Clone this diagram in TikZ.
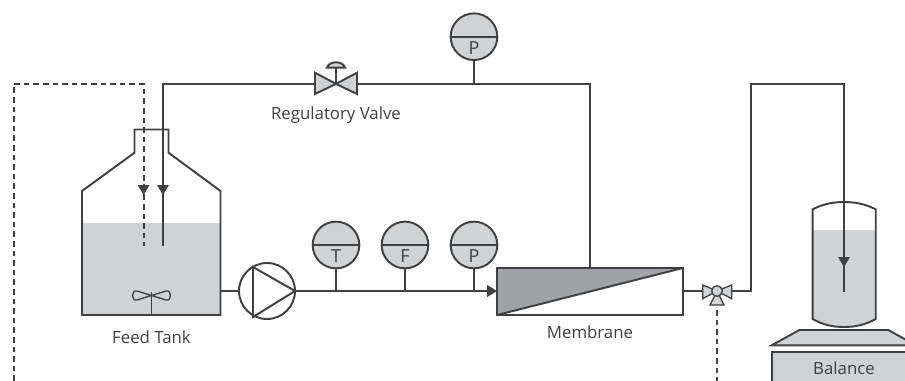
\documentclass[tikz,border=0pt]{standalone}
\usepackage{fontspec}
\setmainfont{Open Sans}
\usetikzlibrary{arrows.meta}
\definecolor{ln}{HTML}{3F4042}
\definecolor{lq}{HTML}{D1D2D4}
\definecolor{dk}{HTML}{A1A2A5}
\tikzset{
  pipe/.style={draw=ln,line width=1.45pt,line join=miter},
  dashpipe/.style={pipe,dash pattern=on 4.2pt off 3pt},
  arr/.style={-{Triangle[length=7.5pt,width=8.5pt]},ln},
  gauge/.style={circle,draw=ln,line width=1.45pt,fill=lq,minimum size=35pt,inner sep=0pt},
  lab/.style={text=ln,font=\fontsize{12.6pt}{14pt}\selectfont,inner sep=0pt},
  glab/.style={text=ln,font=\fontsize{13.5pt}{15pt}\selectfont,inner sep=0pt},
  lqd/.style={fill=lq,draw=none}
}
\begin{document}
\begin{tikzpicture}[x=0.75pt,y=-0.75pt]
\useasboundingbox (0,0) rectangle (905,381);
\clip (0,0) rectangle (905,381);
% feed tank
\fill[lqd] (82,222.7) rectangle (220.5,315);
\draw[pipe] (82,315) -- (82,191) -- (134.5,152.7) -- (134.5,129.5) -- (168.5,129.5) -- (168.5,152.7) -- (220.5,191) -- (220.5,315) -- cycle;
% impeller
\coordinate (imp) at (151.5,295.5);
\coordinate (impb) at (151.5,315);
\draw[pipe,line width=1pt] (impb) -- (151.5,292);
\draw[pipe,line width=1pt] (imp) -- (137,291) .. controls (131,289.5) and (131,301.5) .. (137,300) -- (imp) -- (166,291) .. controls (172,289.5) and (172,301.5) .. (166,300) -- cycle;
\node[lab] (feedlabel) at (151.5,337.5) {Feed Tank};
% pump
\node[circle,draw=ln,line width=1.45pt,fill=white,minimum size=42pt,inner sep=0pt] (pump) at (267,291) {};
\draw[pipe] (253,267) -- (295,291) -- (253,317) -- cycle;
\coordinate (tankout) at (220.5,291);
\draw[pipe] (tankout) -- (pump.west);
% membrane
\node[draw=none,minimum width=138.75pt,minimum height=34.8pt,inner sep=0pt] (mem) at (590,291.5) {};
\fill[dk] (mem.north west) -- (mem.north east) -- (mem.south west) -- cycle;
\draw[pipe] (mem.north west) rectangle (mem.south east);
\draw[pipe] (mem.north east) -- (mem.south west);
\node[lab] (memlabel) at (590,332) {Membrane};
% feed line
\coordinate (memin) at (mem.west |- pump.east);
\draw[pipe] (pump.east) -- (memin);
\draw[pipe,arr] (470,291) -- (memin);
% gauges
\node[gauge] (gt) at (336,245) {};
\node[gauge] (gf) at (405,245) {};
\node[gauge] (gp) at (474,245) {};
\node[gauge] (gq) at (474,36.7) {};
\foreach \g/\t in {gt/T,gf/F,gp/P,gq/P}{
  \draw[pipe] (\g.west) -- (\g.east);
  \node[glab] (lab\g) at ([yshift=-8.2pt]\g.center) {\t};
}
\foreach \g in {gt,gf,gp}{ \draw[pipe] (\g.south) -- (\g.south |- pump.east); }
% recycle line
\coordinate (rtop) at (590,83.9);
\coordinate (ltop) at (163,83.9);
\coordinate (arrL) at (163,195);
\coordinate (endL) at (163,245.7);
\coordinate (vc) at (336,83.9);
\draw[pipe] (mem.north -| rtop) -- (rtop) -- (vc);
\draw[pipe] (vc) -- (ltop) -- (arrL);
\draw[pipe,arr] (163,170) -- (arrL);
\draw[pipe] (arrL) -- (endL);
\draw[pipe] (gq.south) -- (gq.south |- rtop);
% regulating valve
\draw[pipe,fill=lq] (vc) -- (315,72.7) -- (315,94) -- cycle;
\draw[pipe,fill=lq] (vc) -- (357,72.7) -- (357,94) -- cycle;
\draw[pipe] (vc) -- (336,67.7);
\draw[pipe,fill=lq] (327,67.7) .. controls (329,60.5) and (343,60.5) .. (345,67.7) -- cycle;
\node[lab] (vlabel) at (336,115.5) {Regulatory Valve};
% dashed control lines
\coordinate (dTop) at (143.6,83.9);
\coordinate (dArr) at (143.6,195);
\draw[dashpipe] (13.6,381) -- (13.6,83.9) -- (dTop) -- (143.6,245.7);
\draw[pipe,arr] (143.6,184) -- (dArr);
% outlet valve
\coordinate (ov) at (717,291);
\draw[pipe] (mem.east |- ov) -- (702.7,291);
\draw[pipe,fill=lq,line width=1pt] (ov) -- (702.7,285) -- (702.7,298.7) -- cycle;
\draw[pipe,fill=lq,line width=1pt] (ov) -- (731.7,285) -- (731.7,298.7) -- cycle;
\draw[pipe,fill=lq,line width=1pt] (ov) -- (710,305) -- (724,305) -- cycle;
\node[circle,draw=ln,line width=1pt,fill=lq,minimum size=8pt,inner sep=0pt] (ovc) at (ov) {};
\draw[dashpipe] (717,310) -- (717,381);
% balance vessel
\fill[lqd] (812.7,230) -- (875.7,230) -- (875.7,319) .. controls (865,325) and (855,327) .. (844,327) .. controls (833,327) and (823,325) .. (812.7,319) -- cycle;
\draw[pipe] (812.7,209.3) .. controls (823,204) and (833,202) .. (844,202) .. controls (855,202) and (865,204) .. (875.7,209.3) -- (875.7,319) .. controls (865,325) and (855,327) .. (844,327) .. controls (833,327) and (823,325) .. (812.7,319) -- cycle;
% outlet line
\coordinate (arrB) at (844,267);
\draw[pipe] (731.7,291) -- (751,291) -- (751,83.9) -- (844,83.9) -- (arrB);
\draw[pipe,arr] (844,250) -- (arrB);
\draw[pipe] (arrB) -- (844,292);
% balance
\draw[pipe,fill=lq] (771.7,345.3) -- (799.3,330) -- (888.3,330) -- (916,345.3) -- cycle;
\draw[pipe,fill=lq] (771.7,352) rectangle (925,395);
\node[lab] (ballabel) at (844,367.7) {Balance};
\end{tikzpicture}
\end{document}
